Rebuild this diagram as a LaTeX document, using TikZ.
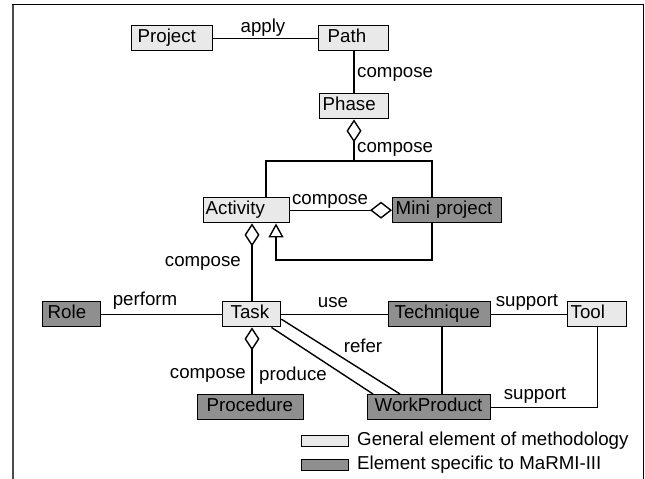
\documentclass[tikz,border=0pt]{standalone}
\usepackage{fontspec}
\setmainfont{Liberation Sans}
\usetikzlibrary{arrows.meta,calc}
\definecolor{lightfill}{RGB}{233,233,233}
\definecolor{darkfill}{RGB}{143,143,143}
\begin{document}
\begin{tikzpicture}[x=1pt,y=-1pt,
  font=\fontsize{18.7}{22}\selectfont,
  box/.style={draw, line width=1.4pt, anchor=north west, inner ysep=0pt,
    minimum height=25pt, text height=13.5pt, text depth=4pt, align=left},
  gen/.style={box, fill=lightfill},
  spec/.style={box, fill=darkfill},
  lab/.style={inner sep=0pt, text height=13.5pt, text depth=4pt},
  conn/.style={line width=1.4pt},
  aggv/.style={conn, -{Diamond[open, length=23pt, width=15pt, line width=1.4pt]}},
  aggh/.style={conn, -{Diamond[open, length=22pt, width=17pt, line width=1.4pt]}},
  inh/.style={conn, -{Triangle[open, length=14pt, width=15pt, line width=1.4pt]}},
  legbox/.style={draw, line width=1.4pt, anchor=north west, inner sep=0pt,
    minimum width=47pt, minimum height=11pt}
]
\useasboundingbox (0,0) rectangle (645,479);
% frame
\draw[line width=2.5pt, black!70] (13,4) -- (13,479);
\draw[line width=1.5pt] (12,4.5) -- (643,4.5);
\draw[line width=1pt] (643,4) -- (643,479);

% nodes
\node[gen, inner xsep=6pt, text width=69pt] (project) at (131,25) {Project};
\node[gen, inner xsep=9pt, text width=52pt] (path) at (318,25) {Path};
\node[gen, inner xsep=3pt, text width=63pt] (phase) at (319,93) {Phase};
\node[gen, inner xsep=2pt, text width=82pt] (activity) at (203,197) {Activity};
\node[spec, inner xsep=3pt, text width=103pt] (mini) at (392,197) {Mini project};
\node[spec, inner xsep=5pt, text width=48pt] (role) at (42,301) {Role};
\node[gen, inner xsep=8pt, text width=42pt] (task) at (222,301) {Task};
\node[spec, inner xsep=6pt, text width=90pt] (technique) at (388,301) {Technique};
\node[gen, inner xsep=3pt, text width=53pt] (tool) at (567,301) {Tool};
\node[spec, inner xsep=9pt, text width=88pt] (procedure) at (197,394) {Procedure};
\node[spec, inner xsep=7pt, text width=109pt] (workproduct) at (367,394) {WorkProduct};

% helper coordinates
\coordinate (bar) at (354,161);
\coordinate (barL) at (266,161);
\coordinate (barR) at (432,161);
\coordinate (gen) at (432,260);
\coordinate (genL) at (276,260);
\coordinate (cx) at (252,0);
\coordinate (tx) at (442,0);

% connectors
\draw[conn] (project.east) -- (path.west);
\draw[conn] (path.south -| bar) -- (phase.north -| bar);
\draw[aggv] (bar) -- (phase.south -| bar);
\draw[conn] (activity.north -| barL) -- (barL) -- (barR) -- (mini.north -| barR);
\draw[aggh] (activity.east) -- (mini.west);
\draw[inh] (mini.south -| gen) -- (gen) -- (genL) -- (activity.south -| genL);
\draw[aggv] (task.north -| cx) -- (activity.south -| cx);
\draw[conn] (role.east) -- (task.west);
\draw[conn] (task.east) -- (technique.west);
\draw[conn] (technique.east) -- (tool.west);
\draw[aggv] (procedure.north -| cx) -- (task.south -| cx);
\draw[conn] ($(task.south east)+(-10,0)$) -- ($(workproduct.north west)+(6,0)$);
\draw[conn] ($(task.east)+(0,5)$) -- ($(workproduct.north west)+(33,0)$);
\draw[conn] (technique.south -| tx) -- (workproduct.north -| tx);
\draw[conn] (tool.south) |- (workproduct.east);

% labels
\node[lab] (lapply) at (263,28) {apply};
\node[lab, anchor=west] (lcomp1) at (357,73) {compose};
\node[lab, anchor=west] (lcomp2) at (357,148) {compose};
\node[lab] (lcomp3) at (330,200) {compose};
\node[lab, anchor=east] (lcomp4) at (241,262) {compose};
\node[lab] (lperform) at (145,301) {perform};
\node[lab] (luse) at (333,303) {use};
\node[lab] (lsupport1) at (527,302) {support};
\node[lab] (lrefer) at (363,348) {refer};
\node[lab, anchor=east] (lcomp5) at (246,374) {compose};
\node[lab] (lproduce) at (293,376) {produce};
\node[lab] (lsupport2) at (535,395) {support};

% legend
\node[legbox, fill=lightfill] (leggen) at (301,435) {};
\node[legbox, fill=darkfill] (legspec) at (301,459) {};
\node[lab, anchor=west] (leggentext) at (357,441) {General element of methodology};
\node[lab, anchor=west] (legspectext) at (357,465) {Element specific to MaRMI-III};
\end{tikzpicture}
\end{document}
